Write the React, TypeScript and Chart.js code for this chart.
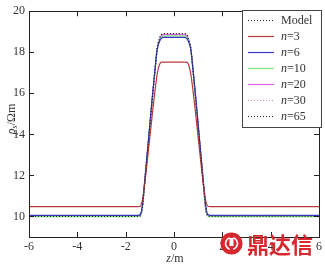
import React, { useEffect, useRef } from "react";
import { Chart, registerables } from "chart.js";

Chart.register(...registerables);

const Z = [-6, -1.5, -1.4, -1.35, -1.3, -1.2, -1.1, -1.0, -0.9, -0.8, -0.7, -0.65, -0.6, -0.55, -0.5, -0.45, 0, 0.45, 0.5, 0.55, 0.6, 0.65, 0.7, 0.8, 0.9, 1.0, 1.1, 1.2, 1.3, 1.35, 1.4, 1.5, 6];

const MODEL = [10, 10, 10.03, 10.15, 10.5, 11.8, 13.1, 14.4, 15.7, 16.95, 18.15, 18.45, 18.66, 18.81, 18.88, 18.91, 18.91, 18.91, 18.88, 18.81, 18.66, 18.45, 18.15, 16.95, 15.7, 14.4, 13.1, 11.8, 10.5, 10.15, 10.03, 10, 10];
const N3 = [10.48, 10.48, 10.5, 10.6, 10.85, 11.7, 12.75, 13.85, 14.95, 16.0, 16.9, 17.2, 17.4, 17.5, 17.52, 17.52, 17.52, 17.52, 17.52, 17.5, 17.4, 17.2, 16.9, 16.0, 14.95, 13.85, 12.75, 11.7, 10.85, 10.6, 10.5, 10.48, 10.48];
const N6 = [10.05, 10.05, 10.1, 10.25, 10.65, 11.9, 13.2, 14.5, 15.8, 17.0, 18.1, 18.35, 18.52, 18.64, 18.7, 18.72, 18.72, 18.72, 18.7, 18.64, 18.52, 18.35, 18.1, 17.0, 15.8, 14.5, 13.2, 11.9, 10.65, 10.25, 10.1, 10.05, 10.05];
const N10 = [9.99, 9.99, 10.03, 10.17, 10.53, 11.83, 13.1, 14.4, 15.7, 16.93, 18.08, 18.38, 18.57, 18.7, 18.76, 18.79, 18.8, 18.79, 18.76, 18.7, 18.57, 18.38, 18.08, 16.93, 15.7, 14.4, 13.1, 11.83, 10.53, 10.17, 10.03, 9.99, 9.99];
const N20 = [10, 10, 10.04, 10.17, 10.52, 11.82, 13.1, 14.4, 15.7, 16.95, 18.12, 18.42, 18.62, 18.76, 18.83, 18.86, 18.87, 18.86, 18.83, 18.76, 18.62, 18.42, 18.12, 16.95, 15.7, 14.4, 13.1, 11.82, 10.52, 10.17, 10.04, 10, 10];
const N30 = [10, 10, 10.03, 10.16, 10.51, 11.8, 13.1, 14.4, 15.7, 16.95, 18.14, 18.44, 18.64, 18.79, 18.86, 18.89, 18.89, 18.89, 18.86, 18.79, 18.64, 18.44, 18.14, 16.95, 15.7, 14.4, 13.1, 11.8, 10.51, 10.16, 10.03, 10, 10];
const N65 = [10, 10, 10.03, 10.15, 10.5, 11.8, 13.1, 14.4, 15.7, 16.95, 18.15, 18.45, 18.65, 18.8, 18.87, 18.9, 18.9, 18.9, 18.87, 18.8, 18.65, 18.45, 18.15, 16.95, 15.7, 14.4, 13.1, 11.8, 10.5, 10.15, 10.03, 10, 10];

const X_TICKS = [-6, -4, -2, 0, 2, 4, 6];
const Y_TICKS = [10, 12, 14, 16, 18, 20];

const SERIES = [
  { name: "Model", prefix: "", label: "Model", data: MODEL, color: "#222222", dash: [1, 2] },
  { name: "n=3", prefix: "n", label: "=3", data: N3, color: "#b83a3a", dash: [] },
  { name: "n=6", prefix: "n", label: "=6", data: N6, color: "#3a3ac8", dash: [] },
  { name: "n=10", prefix: "n", label: "=10", data: N10, color: "#7fe07f", dash: [] },
  { name: "n=20", prefix: "n", label: "=20", data: N20, color: "#e060e0", dash: [] },
  { name: "n=30", prefix: "n", label: "=30", data: N30, color: "#d08a8a", dash: [1, 2] },
  { name: "n=65", prefix: "n", label: "=65", data: N65, color: "#222222", dash: [1, 2] },
];

const SERIF = "'Liberation Serif', 'Times New Roman', serif";

const overlay = {
  id: "overlay",
  afterDraw(chart: any) {
    const ctx = chart.ctx;
    const a = chart.chartArea;
    const xs = chart.scales.x;
    const ys = chart.scales.y;
    ctx.save();
    // frame
    ctx.strokeStyle = "#222";
    ctx.lineWidth = 1;
    ctx.strokeRect(Math.round(a.left) + 0.5, Math.round(a.top) + 0.5, Math.round(a.right - a.left), Math.round(a.bottom - a.top));
    // inward ticks
    ctx.beginPath();
    X_TICKS.forEach((v) => {
      const px = Math.round(xs.getPixelForValue(v)) + 0.5;
      ctx.moveTo(px, a.bottom);
      ctx.lineTo(px, a.bottom - 5);
      ctx.moveTo(px, a.top);
      ctx.lineTo(px, a.top + 5);
    });
    Y_TICKS.forEach((v) => {
      const py = Math.round(ys.getPixelForValue(v)) + 0.5;
      ctx.moveTo(a.left, py);
      ctx.lineTo(a.left + 5, py);
      ctx.moveTo(a.right, py);
      ctx.lineTo(a.right - 5, py);
    });
    ctx.stroke();

    // x title
    ctx.fillStyle = "#333";
    ctx.textBaseline = "middle";
    ctx.font = `italic 12px ${SERIF}`;
    const zw = ctx.measureText("z").width;
    ctx.font = `12px ${SERIF}`;
    const mw = ctx.measureText("/m").width;
    let sx = 175 - (zw + mw) / 2;
    ctx.font = `italic 12px ${SERIF}`;
    ctx.textAlign = "left";
    ctx.fillText("z", sx, 259);
    ctx.font = `12px ${SERIF}`;
    ctx.fillText("/m", sx + zw, 259);

    // y title
    ctx.save();
    ctx.translate(11, 119);
    ctx.rotate(-Math.PI / 2);
    ctx.font = `italic 12px ${SERIF}`;
    const rw = ctx.measureText("ρ").width;
    ctx.font = `italic 8px ${SERIF}`;
    const sw = ctx.measureText("s").width;
    ctx.font = `12px ${SERIF}`;
    const ow = ctx.measureText("/Ωm").width;
    let tx = -(rw + sw + ow) / 2;
    ctx.textBaseline = "alphabetic";
    ctx.font = `italic 12px ${SERIF}`;
    ctx.fillText("ρ", tx, 4);
    ctx.font = `italic 8px ${SERIF}`;
    ctx.fillText("s", tx + rw, 6);
    ctx.font = `12px ${SERIF}`;
    ctx.fillText("/Ωm", tx + rw + sw, 4);
    ctx.restore();

    // legend
    const lx = 242, ly = 10, lw = 79, lh = 117;
    ctx.fillStyle = "#fff";
    ctx.fillRect(lx, ly, lw, lh);
    ctx.strokeStyle = "#444";
    ctx.lineWidth = 1;
    ctx.setLineDash([]);
    ctx.strokeRect(lx + 0.5, ly + 0.5, lw, lh);
    SERIES.forEach((s, i) => {
      const yy = 20.5 + i * 16;
      ctx.strokeStyle = s.color;
      ctx.lineWidth = 1.2;
      ctx.setLineDash(s.dash);
      ctx.beginPath();
      ctx.moveTo(248, yy);
      ctx.lineTo(274, yy);
      ctx.stroke();
      ctx.setLineDash([]);
      ctx.fillStyle = "#333";
      ctx.textBaseline = "middle";
      ctx.textAlign = "left";
      let tx2 = 281;
      if (s.prefix) {
        ctx.font = `italic 12px ${SERIF}`;
        ctx.fillText(s.prefix, tx2, yy);
        tx2 += ctx.measureText(s.prefix).width;
      }
      ctx.font = `12px ${SERIF}`;
      ctx.fillText(s.label, tx2, yy);
    });

    // watermark
    ctx.fillStyle = "#d7282f";
    ctx.beginPath();
    ctx.arc(231.5, 243.5, 11, 0, Math.PI * 2);
    ctx.fill();
    ctx.strokeStyle = "#fff";
    ctx.lineWidth = 1.6;
    ctx.beginPath();
    ctx.arc(231.5, 243.5, 6, Math.PI * 0.6, Math.PI * 1.4);
    ctx.stroke();
    ctx.beginPath();
    ctx.arc(231.5, 243.5, 6, -Math.PI * 0.4, Math.PI * 0.4);
    ctx.stroke();
    ctx.fillStyle = "#fff";
    ctx.fillRect(229.5, 238, 4, 8);
    ctx.fillStyle = "#d7282f";
    ctx.font = `bold 22px 'Noto Sans CJK SC', sans-serif`;
    ctx.textBaseline = "middle";
    ctx.textAlign = "left";
    ctx.fillText("鼎达信", 247, 245);
    ctx.restore();
  },
};

export default function App() {
  const ref = useRef<HTMLCanvasElement | null>(null);
  useEffect(() => {
    document.body.style.margin = "0";
    const canvas = ref.current!;
    const chart = new Chart(canvas, {
      type: "line",
      data: {
        datasets: SERIES.map((s) => ({
          label: s.name,
          data: Z.map((z, i) => ({ x: z, y: s.data[i] })),
          borderColor: s.color,
          borderWidth: 1.2,
          borderDash: s.dash,
          pointRadius: 0,
          fill: false,
          cubicInterpolationMode: "monotone" as const,
        })),
      },
      options: {
        responsive: false,
        animation: false,
        devicePixelRatio: 1,
        layout: { padding: { top: 6, right: 3, left: 0, bottom: 0 } },
        plugins: { legend: { display: false }, tooltip: { enabled: false } },
        scales: {
          x: {
            type: "linear",
            min: -6,
            max: 6,
            grid: { display: false, drawTicks: false },
            border: { display: false },
            afterBuildTicks: (s: any) => {
              s.ticks = X_TICKS.map((v) => ({ value: v }));
            },
            afterFit: (s: any) => {
              s.height = 30;
            },
            ticks: { color: "#333", font: { family: SERIF, size: 12 }, padding: 3, maxRotation: 0 },
          },
          y: {
            type: "linear",
            min: 9,
            max: 20,
            grid: { display: false, drawTicks: false },
            border: { display: false },
            afterBuildTicks: (s: any) => {
              s.ticks = Y_TICKS.map((v) => ({ value: v }));
            },
            afterFit: (s: any) => {
              s.width = 29;
            },
            ticks: { color: "#333", font: { family: SERIF, size: 12 }, padding: 4 },
          },
        },
      },
      plugins: [overlay],
    });
    return () => chart.destroy();
  }, []);
  return (
    <div style={{ position: "absolute", left: 0, top: 0, width: 325, height: 267, background: "#fff" }}>
      <canvas ref={ref} width={325} height={267} />
    </div>
  );
}
